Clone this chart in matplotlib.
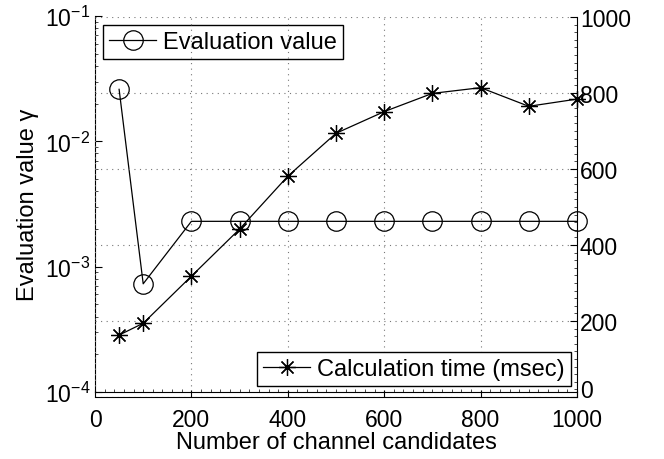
import numpy as np
import matplotlib
matplotlib.use('Agg')
import matplotlib.pyplot as plt
from matplotlib.ticker import LogLocator, MultipleLocator, NullFormatter

plt.rcParams['font.family'] = ['Liberation Sans', 'DejaVu Sans']
plt.rcParams['mathtext.fontset'] = 'custom'
plt.rcParams['mathtext.rm'] = 'Liberation Sans'
plt.rcParams['mathtext.it'] = 'Liberation Sans:italic'
plt.rcParams['font.size'] = 16

# datos
candidates = [50, 100, 200, 300, 400, 500, 600, 700, 800, 900, 1000]
eval_value = [0.026, 0.00073, 0.0023, 0.0023, 0.0023, 0.0023, 0.0023,
              0.0023, 0.0023, 0.0023, 0.0023]
calc_time = [163, 194, 318, 442, 581, 694, 751, 799, 814, 765, 784]

x_ticks = [0, 200, 400, 600, 800, 1000]
time_ticks = [0, 200, 400, 600, 800, 1000]

W, H = 664, 460
fig = plt.figure(figsize=(W / 100, H / 100), dpi=100)

# eje izquierdo (log)
ax1 = fig.add_axes([95 / W, 1 - 393 / H, 482 / W, 376 / H])
# eje derecho (lineal), un poco desplazado como en el original
ax2 = fig.add_axes([95 / W, 1 - 398 / H, 482 / W, 380 / H])
ax2.patch.set_visible(False)

ax1.plot(candidates, eval_value, color='black', lw=0.9, marker='o',
         markersize=14, markerfacecolor='none', markeredgecolor='black',
         markeredgewidth=0.9, label='Evaluation value', clip_on=False)
ax1.set_yscale('log')
ax1.set_ylim(1e-4, 1e-1)
ax1.set_xlim(0, 1000)
ax1.yaxis.set_major_locator(LogLocator(base=10, numticks=10))
ax1.yaxis.set_minor_locator(LogLocator(base=10, subs=np.arange(2, 10), numticks=10))
ax1.yaxis.set_minor_formatter(NullFormatter())
ax1.xaxis.set_minor_locator(MultipleLocator(20))
ax1.set_xticks(x_ticks)
ax1.tick_params(axis='x', which='both', labelbottom=False, direction='in',
                length=0, top=False)
ax1.tick_params(axis='x', which='minor', length=2, width=0.5)
ax1.tick_params(axis='y', which='major', direction='in', length=5, width=0.8,
                right=False, labelsize=16.5)
ax1.tick_params(axis='y', which='minor', direction='in', length=2.5, width=0.5,
                right=False)
ax1.spines['top'].set_visible(False)
ax1.spines['right'].set_visible(False)
ax1.set_ylabel('Evaluation value γ', fontsize=17, labelpad=4)

ax2.plot(candidates, calc_time, color='black', lw=0.9, marker=(8, 2, 0),
         markersize=12, markeredgewidth=0.9, label='Calculation time (msec)',
         clip_on=False)
ax2.set_ylim(0, 1000)
ax2.set_xlim(0, 1000)
ax2.set_xticks(x_ticks)
ax2.set_yticks(time_ticks)
ax2.yaxis.set_minor_locator(MultipleLocator(20))
ax2.yaxis.tick_right()
ax2.tick_params(axis='y', which='major', direction='in', length=5, width=0.8,
                left=False, right=True, labelleft=False, labelright=True,
                labelsize=16.5, pad=2)
ax2.tick_params(axis='y', which='minor', direction='in', length=2.5, width=0.5,
                left=False, right=True)
ax2.tick_params(axis='x', which='major', direction='in', length=5, width=0.8,
                top=False, labelsize=16.5, pad=8)
ax2.spines['top'].set_visible(False)
ax2.spines['left'].set_visible(False)
ax2.grid(True, which='major', color='#777777', linestyle=(0, (1, 4)), lw=0.8)
ax2.set_xlabel('Number of channel candidates', fontsize=17, labelpad=0)
# el "0" de la derecha queda un poco mas arriba, como en el original
ax2.yaxis.get_major_ticks()[0].label2.set_va('baseline')

leg1 = ax1.legend(loc='upper left', bbox_to_anchor=(103 / W, 1 - 26 / H),
                  bbox_transform=fig.transFigure, borderaxespad=0,
                  fancybox=False, edgecolor='black', framealpha=1,
                  borderpad=0.25, handlelength=2.0, handletextpad=0.3,
                  fontsize=17)
leg1.get_frame().set_linewidth(1.0)
leg2 = ax2.legend(loc='lower right', bbox_to_anchor=(571 / W, 1 - 387 / H),
                  bbox_transform=fig.transFigure, borderaxespad=0,
                  fancybox=False, edgecolor='black', framealpha=1,
                  borderpad=0.25, handlelength=2.0, handletextpad=0.3,
                  fontsize=17)
leg2.get_frame().set_linewidth(1.0)

fig.savefig('out.png', dpi=100)
